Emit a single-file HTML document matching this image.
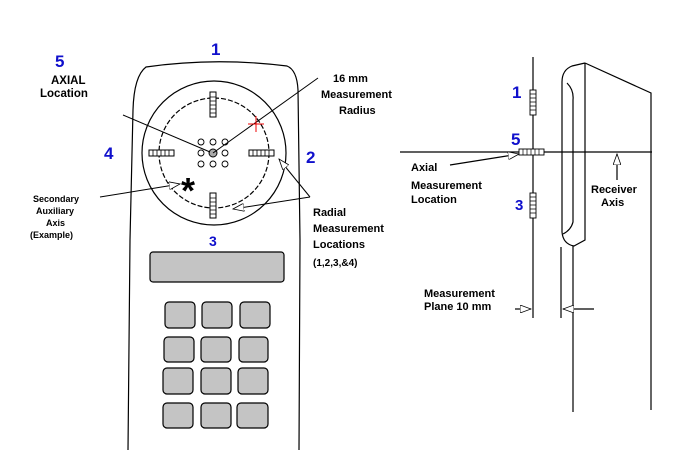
<!DOCTYPE html>
<html><head><style>body{margin:0;background:#fff}svg{display:block}</style></head><body>
<svg width="679" height="450" viewBox="0 0 679 450" xmlns="http://www.w3.org/2000/svg" font-family="Liberation Sans, sans-serif">
<defs><marker id="a" markerWidth="12" markerHeight="8" refX="11" refY="4" orient="auto" markerUnits="userSpaceOnUse"><path d="M0,0 L11,4 L0,8 Z" fill="#fff" stroke="#000" stroke-width="0.8"/></marker></defs>
<g fill="none" stroke="#000" stroke-width="1.2">
<path d="M128,450 L130,240 L133,110 Q134,76 146,67 Q215,57 287,66 Q297,70 298,90 L300,240 L299,450"/>
<circle cx="214" cy="153" r="72"/>
<circle cx="214" cy="153" r="55" stroke-dasharray="5,2"/>
</g>
<g fill="#c4c4c4" stroke="#000" stroke-width="1.2">
<rect x="150" y="252" width="134" height="30" rx="3"/>
<rect x="165" y="302" width="30" height="26" rx="4"/><rect x="202" y="302" width="30" height="26" rx="4"/><rect x="240" y="302" width="30" height="26" rx="4"/>
<rect x="164" y="337" width="30" height="25" rx="4"/><rect x="201" y="337" width="30" height="25" rx="4"/><rect x="239" y="337" width="29" height="25" rx="4"/>
<rect x="163" y="368" width="30" height="26" rx="4"/><rect x="201" y="368" width="30" height="26" rx="4"/><rect x="238" y="368" width="30" height="26" rx="4"/>
<rect x="163" y="403" width="30" height="25" rx="4"/><rect x="201" y="403" width="30" height="25" rx="4"/><rect x="237" y="403" width="31" height="25" rx="4"/>
</g>
<g fill="#fff" stroke="#000" stroke-width="1">
<rect x="210" y="92" width="6" height="25"/><rect x="210" y="193" width="6" height="25"/>
<rect x="149" y="150" width="25" height="6"/><rect x="249" y="150" width="25" height="6"/>
</g>
<g stroke="#000" stroke-width="0.8">
<path d="M210,97h6M210,101h6M210,105h6M210,109h6M210,113h6M210,198h6M210,202h6M210,206h6M210,210h6M210,214h6"/>
<path d="M153,150v6M157,150v6M161,150v6M165,150v6M169,150v6M253,150v6M257,150v6M261,150v6M265,150v6M269,150v6"/>
</g>
<g fill="#fff" stroke="#000" stroke-width="0.9">
<circle cx="201" cy="142" r="3"/><circle cx="213" cy="142" r="3"/><circle cx="225" cy="142" r="3"/>
<circle cx="201" cy="153" r="3"/><circle cx="225" cy="153" r="3"/>
<circle cx="201" cy="164" r="3"/><circle cx="213" cy="164" r="3"/><circle cx="225" cy="164" r="3"/>
</g>
<circle cx="213" cy="153" r="4" fill="#aaa" stroke="#000"/>
<g stroke="#000" stroke-width="1" fill="none">
<line x1="123" y1="115" x2="210" y2="152"/>
<line x1="213" y1="153" x2="318" y2="78"/>
<line x1="100" y1="197" x2="180" y2="184" marker-end="url(#a)"/>
<line x1="310" y1="197" x2="279" y2="159" marker-end="url(#a)"/>
<line x1="310" y1="197" x2="233" y2="209" marker-end="url(#a)"/>
</g>
<g stroke="#e00" stroke-width="1"><line x1="248" y1="124" x2="264" y2="124"/><line x1="256" y1="116" x2="256" y2="132"/></g>
<text x="181" y="203" font-size="36" font-weight="bold">*</text>
<g fill="#1010cc" font-size="17" font-weight="bold">
<text x="211" y="55">1</text><text x="306" y="163">2</text><text x="209" y="246" font-size="14">3</text><text x="104" y="159">4</text><text x="55" y="67">5</text>
<text x="512" y="98">1</text><text x="511" y="145">5</text><text x="515" y="210" font-size="15">3</text>
</g>
<g font-size="11.5" font-weight="bold" fill="#000">
<text x="51" y="84">AXIAL</text><text x="40" y="97">Location</text>
<text x="333" y="82" font-size="11">16 mm</text><text x="321" y="98" font-size="11">Measurement</text><text x="339" y="114" font-size="11">Radius</text>
<text x="33" y="202" font-size="9">Secondary</text><text x="36" y="214" font-size="9">Auxiliary</text><text x="46" y="226" font-size="9">Axis</text><text x="30" y="238" font-size="9">(Example)</text>
<text x="313" y="216" font-size="11">Radial</text><text x="313" y="232" font-size="11">Measurement</text><text x="313" y="248" font-size="11">Locations</text><text x="313" y="266" font-size="10">(1,2,3,&amp;4)</text>
<text x="411" y="171" font-size="11">Axial</text><text x="411" y="189" font-size="11">Measurement</text><text x="411" y="203" font-size="11">Location</text>
<text x="591" y="193" font-size="11">Receiver</text><text x="601" y="206" font-size="11">Axis</text>
<text x="424" y="297" font-size="11">Measurement</text><text x="424" y="310" font-size="11">Plane  10 mm</text>
</g>
<g stroke="#000" stroke-width="1.2" fill="none">
<line x1="533" y1="57" x2="533" y2="318"/>
<line x1="400" y1="152" x2="652" y2="152"/>
<path d="M585,63 L651,93 L651,410"/>
<path d="M585,63 L572,66 Q562,70 562,82 L562,232 Q563,244 574,246 L585,240 L585,63"/>
<path d="M567,83 Q574,90 573,100 L573,222 Q571,230 563,234"/>
<line x1="573" y1="246" x2="573" y2="412"/>
<line x1="561" y1="247" x2="561" y2="318"/>
<line x1="515" y1="309" x2="531" y2="309" marker-end="url(#a)"/>
<line x1="594" y1="309" x2="563" y2="309" marker-end="url(#a)"/>
<line x1="617" y1="180" x2="617" y2="154" marker-end="url(#a)"/>
<line x1="450" y1="165" x2="519" y2="154" marker-end="url(#a)"/>
</g>
<g fill="#fff" stroke="#000" stroke-width="0.9">
<rect x="530" y="90" width="6" height="25"/><rect x="530" y="193" width="6" height="25"/><rect x="519" y="149" width="25" height="6"/>
</g>
<g stroke="#000" stroke-width="0.7">
<path d="M530,94h6M530,98h6M530,102h6M530,106h6M530,110h6M530,197h6M530,201h6M530,205h6M530,209h6M530,213h6M523,149v6M527,149v6M531,149v6M535,149v6M539,149v6"/>
</g>
</svg>
</body></html>
